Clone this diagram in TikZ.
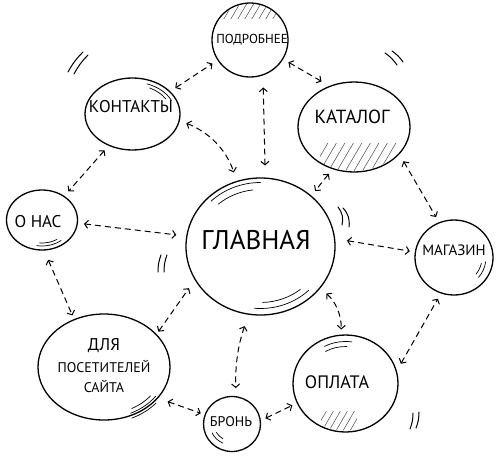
\documentclass[tikz,border=0pt]{standalone}
\usepackage{fontspec}
\setmainfont{PT Sans}
\usetikzlibrary{arrows.meta,shapes.geometric}

\begin{document}
\begin{tikzpicture}[x=1pt,y=1pt,
  bub/.style={ellipse,draw,line width=1.3pt,inner sep=0pt},
  link/.style={line width=1pt,dash pattern=on 6pt off 4pt,{Straight Barb[length=3.5pt,width=8pt]}-{Straight Barb[length=3.5pt,width=8pt]},shorten <=6pt,shorten >=6pt},
  shine/.style={line width=0.7pt,line cap=round},
  tick/.style={line width=1pt,line cap=round},
  hatch/.style={line width=0.5pt,black!70}]
  \useasboundingbox (0,0) rectangle (502,-460);
  % bubbles
  \node[bub,minimum width=149pt,minimum height=137pt] (glav) at (260.5,-246.5) {};
  \node[bub,minimum width=76pt,minimum height=74pt] (pod) at (250,-40) {};
  \node[bub,minimum width=95pt,minimum height=72pt] (kont) at (132.5,-114) {};
  \node[bub,minimum width=112pt,minimum height=90pt] (kat) at (354,-127) {};
  \node[bub,minimum width=71pt,minimum height=60pt] (onas) at (42,-220) {};
  \node[bub,minimum width=78pt,minimum height=75pt] (mag) at (454,-257.5) {};
  \node[bub,minimum width=132pt,minimum height=106pt] (dlya) at (104,-367) {};
  \node[bub,minimum width=57pt,minimum height=55pt] (bron) at (232,-424) {};
  \node[bub,minimum width=105pt,minimum height=97pt] (opl) at (345.5,-383.5) {};
  % labels
  \node[font=\fontsize{27}{30}\selectfont] (glav-t) at (256,-240) {ГЛАВНАЯ};
  \node[font=\fontsize{13}{15}\selectfont] (pod-t) at (252,-40) {ПОДРОБНЕЕ};
  \node[font=\fontsize{17}{20}\selectfont] (kont-t) at (131,-107) {КОНТАКТЫ};
  \node[font=\fontsize{19}{22}\selectfont] (kat-t) at (352,-117) {КАТАЛОГ};
  \node[font=\fontsize{17}{20}\selectfont] (onas-t) at (38,-222) {О НАС};
  \node[font=\fontsize{15}{18}\selectfont] (mag-t) at (454,-250) {МАГАЗИН};
  \node[font=\fontsize{14}{20}\selectfont,align=center] (dlya-t) at (104,-366) {{\fontsize{17}{20}\selectfont ДЛЯ}\\[2pt]ПОСЕТИТЕЛЕЙ\\САЙТА};
  \node[font=\fontsize{14}{17}\selectfont] (bron-t) at (231,-422) {БРОНЬ};
  \node[font=\fontsize{18}{21}\selectfont] (opl-t) at (337,-382) {ОПЛАТА};
  % hatching
  \begin{scope}
    \clip (pod.center) ellipse[x radius=37,y radius=36];
    \clip (222,-2) rectangle (276,-19);
    \foreach \x in {208,215,...,280} \draw[hatch] (\x,-22) -- ++(13,22);
  \end{scope}
  \begin{scope}
    \clip (kat.center) ellipse[x radius=55,y radius=44];
    \clip (320,-143) rectangle (396,-175);
    \foreach \x in {300,308.5,...,400} \draw[hatch] (\x,-176) -- ++(20,34);
  \end{scope}
  \begin{scope}
    \clip (opl.center) ellipse[x radius=51,y radius=47];
    \clip (321,-411) rectangle (357,-436);
    \foreach \x in {305,312,...,360} \draw[hatch] (\x,-436) -- ++(15,26);
  \end{scope}
  % links
  \draw[link] (kont.31) -- (pod.212);
  \draw[link,shorten >=9pt] (pod.-30) -- (kat.121);
  \draw[link,shorten <=12pt,shorten >=12pt] (pod.-70) -- (glav.86);
  \draw[link,shorten <=7pt,shorten >=9pt] (kont.-8) to[bend left=25] (glav.110);
  \draw[link] (kat.243) -- (glav.45);
  \draw[link,shorten <=8pt] (kat.-31) -- (mag.113);
  \draw[link] (kont.233) -- (onas.47);
  \draw[link,shorten >=10pt] (onas.-5) -- (glav.172);
  \draw[link,shorten <=12pt,shorten >=5pt] (glav.6) -- (mag.172);
  \draw[link,shorten <=10pt,shorten >=4pt] (onas.-86) -- (dlya.122);
  \draw[link,shorten <=3pt,shorten >=10pt] (dlya.32) -- (glav.207);
  \draw[link,shorten <=12pt,shorten >=8pt] (glav.-100) to[bend right=10] (bron.82);
  \draw[link,shorten <=8pt,shorten >=5pt] (glav.-35) to[bend left=25] (opl.95);
  \draw[link,shorten <=10pt,shorten >=4pt] (dlya.-30) -- (bron.161);
  \draw[link,shorten <=5pt,shorten >=5pt] (bron.7) -- (opl.202);
  \draw[link,shorten <=8pt] (opl.14) -- (mag.-110);
  % shine strokes
  \draw[shine] (glav.center) ++(90:70 and 64) arc[start angle=90,end angle=135,x radius=70,y radius=64];
  \draw[shine] (glav.center) ++(97:63 and 57) arc[start angle=97,end angle=132,x radius=63,y radius=57];
  \draw[shine] (glav.center) ++(-95:68 and 62) arc[start angle=-95,end angle=-45,x radius=68,y radius=62];
  \draw[shine] (glav.center) ++(-88:62 and 56) arc[start angle=-88,end angle=-50,x radius=62,y radius=56];
  \draw[shine] (kont.center) ++(25:43 and 32) arc[start angle=25,end angle=70,x radius=43,y radius=32];
  \draw[shine] (kont.center) ++(32:39 and 29) arc[start angle=32,end angle=64,x radius=39,y radius=29];
  \draw[shine] (onas.center) ++(-100:31 and 26) arc[start angle=-100,end angle=-52,x radius=31,y radius=26];
  \draw[shine] (onas.center) ++(-95:28 and 23) arc[start angle=-95,end angle=-58,x radius=28,y radius=23];
  \draw[shine] (dlya.center) ++(-65:63 and 51) arc[start angle=-65,end angle=-35,x radius=63,y radius=51];
  \draw[shine] (dlya.center) ++(-62:59 and 47) arc[start angle=-62,end angle=-38,x radius=59,y radius=47];
  \draw[shine] (dlya.center) ++(-66:68 and 56) arc[start angle=-66,end angle=-40,x radius=68,y radius=56];
  \draw[shine] (bron.center) ++(-155:22 and 21) arc[start angle=-155,end angle=-115,x radius=22,y radius=21];
  \draw[shine] (bron.center) ++(-150:18 and 17) arc[start angle=-150,end angle=-120,x radius=18,y radius=17];
  \draw[shine] (mag.center) ++(-40:32 and 31) arc[start angle=-40,end angle=-8,x radius=32,y radius=31];
  \draw[shine] (mag.center) ++(-38:28 and 27) arc[start angle=-38,end angle=-12,x radius=28,y radius=27];
  \draw[shine] (opl.center) ++(82:45 and 42) arc[start angle=82,end angle=118,x radius=45,y radius=42];
  \draw[shine] (opl.center) ++(88:40 and 37) arc[start angle=88,end angle=120,x radius=40,y radius=37];
  % ticks round the bubbles
  \draw[tick] (68,-72) to[bend left=8] (83,-52);
  \draw[tick] (74,-74) to[bend left=8] (88,-55);
  \draw[tick] (385,-53) to[bend left=10] (397,-65);
  \draw[tick] (392,-51) to[bend left=10] (403,-62);
  \draw[tick] (338,-207) to[bend left=25] (342,-225);
  \draw[tick] (343,-208) to[bend left=25] (349,-227);
  \draw[tick] (161,-255) to[bend right=10] (158,-272);
  \draw[tick] (167,-255) to[bend right=10] (164,-272);
  \draw[tick] (413,-413) to[bend left=10] (410,-429);
  \draw[tick] (419,-412) to[bend left=10] (416,-428);
\end{tikzpicture}
\end{document}
